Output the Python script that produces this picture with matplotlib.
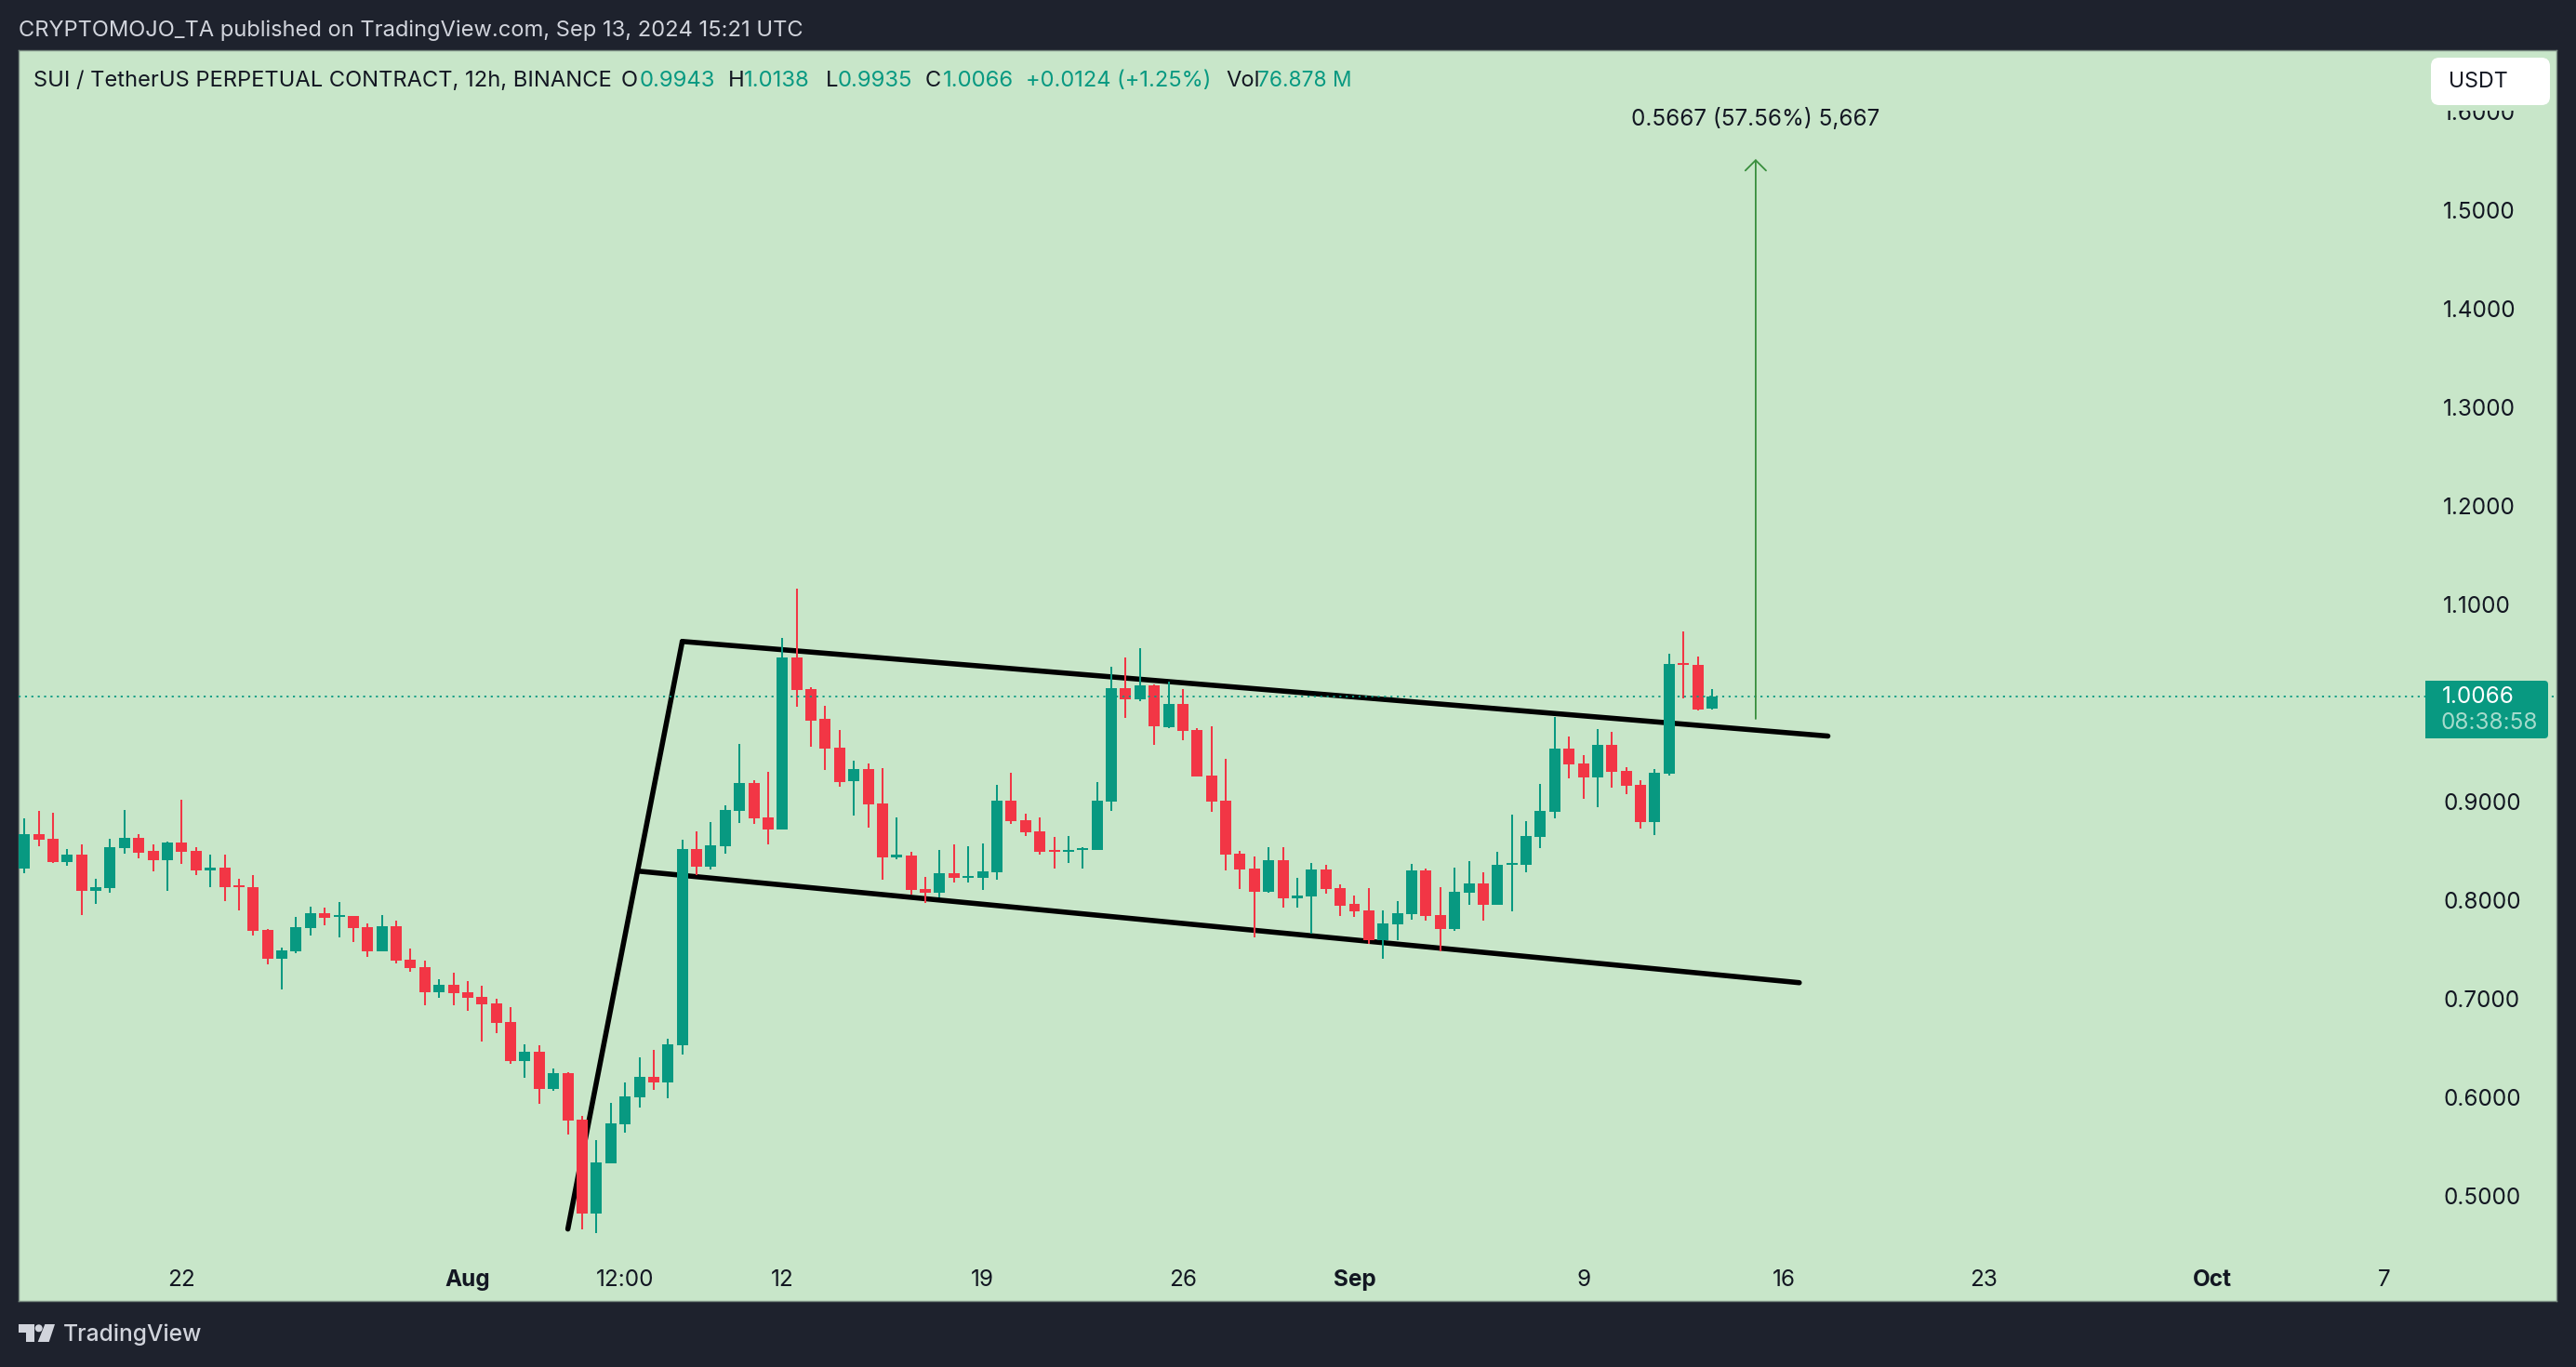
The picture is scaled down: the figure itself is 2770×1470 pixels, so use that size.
import matplotlib
matplotlib.use("Agg")
import matplotlib.pyplot as plt
from matplotlib.patches import Circle, FancyBboxPatch, Polygon, Rectangle
from matplotlib.transforms import Affine2D

W, H = 2770, 1470

# 12h candles, first one opens Jul 16 12:00
opens = [
    .8322, .8668, .8621, .8385, .8463, .8096, .8123, .8526, .8631, .8500,
    .8406, .8584, .8500, .8301, .8332, .8150, .8133, .7698, .7405, .7483,
    .7718, .7867, .7830, .7840, .7725, .7483, .7735, .7395, .7321, .7065,
    .7143, .7065, .7018, .6954, .6765, .6368, .6462, .6084, .6246, .5774,
    .4821, .5330, .5727, .5999, .6207, .6150, .6527, .8520, .8342, .8546,
    .8905, .9191, .8840, .8719, 1.0464, 1.0139, .9841, .9546, .9208, .9330,
    .8983, .8437, .8455, .8112, .8078, .8273, .8225, .8225, .8281, .9009,
    .8810, .8697, .8511, .8489, .8511, .8511, .9000, 1.0151, 1.0038, 1.0180,
    .9755, .9991, .9727, .9264, .9010, .8472, .8321, .8085, .8406, .8019,
    .8038, .8312, .8123, .7963, .7897, .7595, .7755, .7859, .8302, .7849,
    .7708, .8076, .8170, .7953, .8359, .8359, .8642, .8897, .9538, .9387,
    .9246, .9576, .9312, .9170, .8793, .9283, 1.0406, 1.0387, .9943,
]
highs = [
    .8830, .8904, .8887, .8520, .8567, .8217, .8621, .8915, .8668, .8567,
    .8594, .9019, .8536, .8463, .8463, .8217, .8254, .7708, .7520, .7830,
    .7934, .7924, .7981, .7840, .7766, .7850, .7793, .7510, .7388, .7200,
    .7264, .7180, .7132, .7001, .6917, .6539, .6529, .6294, .6256, .5812,
    .5566, .5943, .6152, .6405, .6484, .6596, .8615, .8697, .8792, .8961,
    .9585, .9217, .9304, 1.0659, 1.1162, 1.0157, .9971, .9728, .9416, .9386,
    .9338, .8840, .8489, .8238, .8511, .8567, .8546, .8576, .9169, .9291,
    .8879, .8840, .8641, .8649, .8537, .9200, 1.0368, 1.0463, 1.0557, 1.0189,
    1.0220, 1.0142, .9746, .9764, .9434, .8500, .8444, .8538, .8538, .8227,
    .8378, .8359, .8161, .8048, .8123, .7897, .7991, .8368, .8321, .8132,
    .8331, .8397, .8283, .8491, .8868, .8802, .9180, .9859, .9661, .9472,
    .9736, .9708, .9349, .9217, .9331, 1.0500, 1.0727, 1.0472, 1.0138,
]
lows = [
    .8274, .8547, .8379, .8348, .7850, .7961, .8076, .8473, .8426, .8291,
    .8096, .8369, .8254, .8133, .7991, .7897, .7641, .7348, .7095, .7463,
    .7641, .7746, .7624, .7577, .7425, .7483, .7358, .7274, .6934, .7011,
    .6934, .6876, .6566, .6651, .6341, .6199, .5933, .6068, .5623, .4659,
    .4626, .5330, .5643, .5896, .6077, .5990, .6436, .8251, .8312, .8472,
    .8784, .8775, .8567, .8719, .9962, .9555, .9321, .9152, .8857, .8736,
    .8208, .8416, .8056, .7974, .8026, .8182, .8182, .8104, .8208, .8775,
    .8649, .8463, .8320, .8377, .8320, .8511, .8906, .9849, 1.0019, .9576,
    .9746, .9623, .9255, .8897, .8302, .8114, .7623, .8076, .7925, .7925,
    .7661, .8066, .7840, .7831, .7557, .7406, .7595, .7802, .7793, .7481,
    .7689, .7953, .7793, .7953, .7887, .8283, .8529, .8831, .9236, .9029,
    .8944, .9142, .9076, .8727, .8661, .9264, 1.0048, .9925, .9935,
]
closes = [
    .8668, .8614, .8385, .8463, .8096, .8133, .8536, .8631, .8480, .8406,
    .8584, .8490, .8301, .8332, .8133, .8133, .7688, .7405, .7489, .7725,
    .7867, .7820, .7850, .7718, .7483, .7735, .7388, .7311, .7065, .7143,
    .7058, .7011, .6944, .6755, .6368, .6462, .6084, .6246, .5764, .4821,
    .5340, .5737, .6010, .6209, .6150, .6540, .8520, .8342, .8559, .8914,
    .9191, .8831, .8719, 1.0464, 1.0131, .9819, .9537, .9200, .9330, .8970,
    .8433, .8459, .8104, .8078, .8273, .8225, .8247, .8294, .9009, .8801,
    .8688, .8489, .8489, .8511, .8528, .9009, 1.0151, 1.0038, 1.0180, .9764,
    .9991, .9717, .9255, .9000, .8463, .8312, .8085, .8406, .8019, .8048,
    .8312, .8114, .7944, .7887, .7595, .7764, .7868, .8302, .7840, .7708,
    .8085, .8170, .7953, .8359, .8378, .8651, .8906, .9538, .9378, .9246,
    .9576, .9302, .9161, .8793, .9293, 1.0397, 1.0387, .9934, 1.0066,
]

# 1.0000 is left out, the last price badge hides it on the original
price_ticks = [0.5, 0.6, 0.7, 0.8, 0.9, 1.1, 1.2, 1.3, 1.4, 1.5, 1.6]
date_ticks = [11, 31, 42, 53, 67, 81, 93, 109, 123, 137, 153, 165]
date_labels = ["22", "Aug", "12:00", "12", "19", "26", "Sep", "9", "16", "23", "Oct", "7"]
bold_labels = ["Aug", "Sep", "Oct"]

last_price = 1.0066

# drawings on the chart: (bar index, price) pairs
pole_x, pole_y = [38.0, 46.0], [0.4664, 1.0625]
upper_x, upper_y = [46.0, 126.1], [1.0625, 0.9665]
lower_x, lower_y = [43.0, 124.1], [0.8294, 0.7163]
target_x, target_low, target_high = 121.05, 0.984, 1.5519

BG = "#1e222d"
PANE = "#c8e6c9"
UP = "#089981"
DOWN = "#f23645"
INK = "#131722"
FONT = "Inter"

plt.rcParams["font.family"] = FONT

fig = plt.figure(figsize=(W / 100, H / 100), dpi=100, facecolor=BG)

# pane spans x 20..2749, y 54..1399 in picture pixels
ax = fig.add_axes([20 / W, 1 - 1399 / H, 2729 / W, 1345 / H], facecolor=PANE)
ax.set_xlim(-0.403, 177.04)
ax.set_ylim(0.3934, 1.6623)
for spine in ax.spines.values():
    spine.set_color("#788a80")
    spine.set_linewidth(1.0)

# flag lines sit under the candles
for xs, ys in [(pole_x, pole_y), (upper_x, upper_y), (lower_x, lower_y)]:
    ax.plot(xs, ys, color="black", lw=4.0, solid_capstyle="round", zorder=2)

for i in range(len(opens)):
    col = UP if closes[i] >= opens[i] else DOWN
    ax.vlines(i, lows[i], highs[i], color=col, lw=1.45, zorder=3)
    ax.bar(i, abs(closes[i] - opens[i]), bottom=min(opens[i], closes[i]),
           width=0.78, color=col, linewidth=0, zorder=3)

ax.axhline(last_price, color=UP, lw=1.3, linestyle=(0, (1.2, 2.6)), zorder=4)

ax.annotate("", xy=(target_x, target_high), xytext=(target_x, target_low),
            arrowprops=dict(arrowstyle="->,head_length=0.8,head_width=0.8",
                            color="#388e3c", lw=1.3, shrinkA=0, shrinkB=0), zorder=4)
ax.text(target_x, 1.5925, "0.5667 (57.56%) 5,667", ha="center", va="center",
        fontsize=17.5, color=INK, zorder=5)

ax.yaxis.tick_right()
ax.set_yticks(price_ticks)
ax.set_yticklabels([f"{p:.4f}" for p in price_ticks])
ax.tick_params(axis="y", length=0, pad=-87.8, labelsize=17.5, labelcolor=INK)
ax.set_xticks(date_ticks)
ax.set_xticklabels(date_labels)
ax.tick_params(axis="x", length=0, pad=-24.5, labelsize=17.5, labelcolor=INK)
for lab in ax.get_xticklabels():
    if lab.get_text() in bold_labels:
        lab.set_fontweight("bold")

# everything outside the data scales is placed in picture pixels, y going down
tr = Affine2D().scale(1, -1).translate(0, H)


def px_text(x, y, s, color, size=17.5, **kw):
    fig.text(x, y, s, color=color, fontsize=size, va="center", transform=tr, **kw)


px_text(20, 33, "CRYPTOMOJO_TA published on TradingView.com, Sep 13, 2024 15:21 UTC",
        "#d1d4dc", size=17.05)

px_text(36, 87, "SUI / TetherUS PERPETUAL CONTRACT, 12h, BINANCE", INK, size=17.05)
legend_bits = [
    (668, "O", INK, 17.05), (688, "0.9943", UP, 17.2), (783, "H", INK, 17.05),
    (800, "1.0138", UP, 17.2), (888, "L", INK, 17.05), (901, "0.9935", UP, 17.2),
    (995, "C", INK, 17.05), (1014, "1.0066", UP, 17.2), (1103, "+0.0124 (+1.25%)", UP, 17.0),
    (1318, "Vol", INK, 17.05), (1352, "76.878 M", UP, 16.3),
]
for x, s, c, sz in legend_bits:
    px_text(x, 87, s, c, size=sz)

# currency button, its backdrop cuts off the top of the 1.6000 label
fig.add_artist(Rectangle((2606, 56), 141, 63, transform=tr, fc=PANE, ec="none", zorder=4))
fig.add_artist(FancyBboxPatch((2614, 62), 128, 51, boxstyle="round,pad=0,rounding_size=9",
                              transform=tr, fc="white", ec="none", zorder=5))
px_text(2633, 88, "USDT", INK, size=16.7, zorder=6)

# last price badge
fig.add_artist(FancyBboxPatch((2608, 732), 132, 62, boxstyle="round,pad=0,rounding_size=4",
                              transform=tr, fc=UP, ec="none", zorder=5))
fig.add_artist(Rectangle((2608, 732), 20, 62, transform=tr, fc=UP, ec="none", zorder=5))
px_text(2626, 749, f"{last_price:.4f}", "white", zorder=6)
px_text(2625, 777, "08:38:58", "#a5dbcc", zorder=6)

# TradingView logo
LOGO = "#d1d4dc"
fig.add_artist(Polygon([(20, 1424), (36.7, 1424), (36.7, 1443), (28, 1443), (28, 1433), (20, 1433)],
                       transform=tr, fc=LOGO, ec="none"))
fig.add_artist(Circle((41.7, 1428.3), 4, transform=tr, fc=LOGO, ec="none"))
fig.add_artist(Polygon([(48.3, 1424), (59, 1424), (52.7, 1443), (40.7, 1443)],
                       transform=tr, fc=LOGO, ec="none"))
px_text(68, 1435, "TradingView", LOGO, size=17.7, fontweight="medium")

fig.savefig("out.png", dpi=100, facecolor=BG)
